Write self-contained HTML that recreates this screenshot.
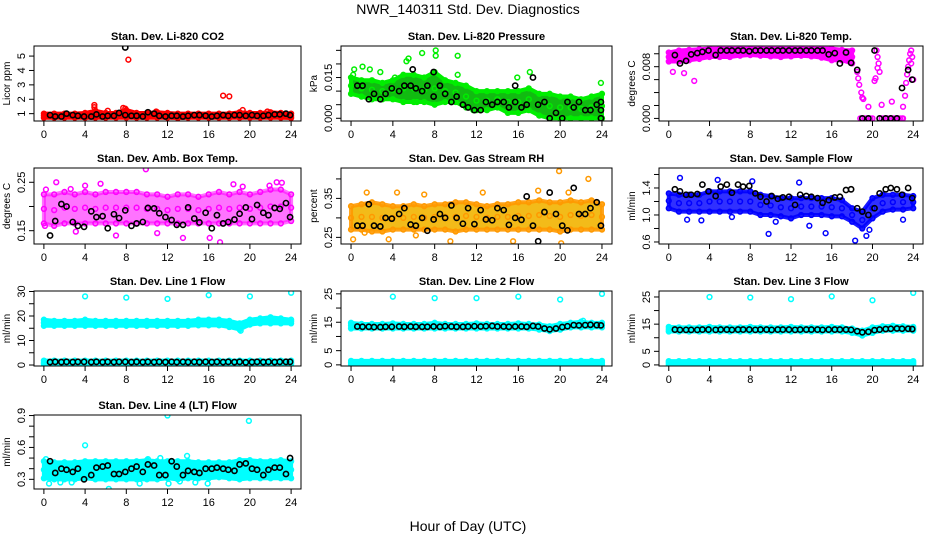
<!DOCTYPE html>
<html><head><meta charset="utf-8"><style>
html,body{margin:0;padding:0;background:#fff;}
svg{display:block;font-family:"Liberation Sans",sans-serif;}
</style></head><body>
<svg id="chart" width="936" height="540" viewBox="0 0 936 540">
<text x="468" y="14" text-anchor="middle" font-size="14">NWR_140311  Std. Dev. Diagnostics</text>
<text x="468" y="531" text-anchor="middle" font-size="14">Hour of Day (UTC)</text>
</svg>
<script>
const blackHours=[0.6,1.1,1.7,2.2,2.8,3.3,3.9,4.6,5.1,5.7,6.2,6.8,7.3,7.9,8.5,9.0,9.6,10.1,10.7,11.2,11.8,12.4,12.9,13.5,14.0,14.6,15.1,15.7,16.3,16.8,17.4,17.9,18.5,19.0,19.6,20.2,20.7,21.3,21.8,22.4,22.9,23.5,23.9];
const xTicks=[0,4,8,12,16,20,24];

// P1 CO2
const co2Lo=[0.72,0.72,0.72,0.72,0.72,0.72,0.72,0.72,0.72,0.72,0.72,0.72,0.72,0.7,0.72,0.72,0.72,0.72,0.72,0.72,0.72,0.72,0.72,0.72,0.7];
const co2Hi=[1.0,1.0,1.0,1.0,1.05,1.2,1.05,1.05,1.25,1.05,1.05,1.1,1.05,1.0,1.0,1.0,1.0,1.0,1.0,1.1,1.05,1.05,1.1,1.05,1.0];
const co2OutH=[4.9,4.9,6.2,7.7,7.9,8.2,17.4,18.0,19.3,10.9,21.7];
const co2OutV=[1.6,1.45,1.2,1.4,1.35,4.75,2.25,2.2,1.25,1.15,1.15];
const co2Black=[0.9,0.8,0.8,1.0,0.9,0.85,0.8,0.8,0.95,0.8,0.85,0.85,1.05,0.9,0.85,0.85,0.8,1.1,1.0,0.85,0.8,0.85,0.85,0.8,0.85,0.9,0.9,0.85,0.8,0.85,0.9,0.85,0.9,0.9,0.85,0.9,0.85,0.85,0.9,0.95,0.95,1.0,0.9];
const co2ExH=[7.9], co2ExV=[5.6];
// P2 pressure
const prLo=[0.009,0.008,0.007,0.007,0.007,0.006,0.006,0.006,0.005,0.006,0.006,0.004,0.003,0.003,0.004,0.002,0.002,0.003,0.001,0.0,0.0,0.0,0.0,0.0,0.0];
const prHi=[0.015,0.014,0.014,0.013,0.014,0.016,0.016,0.015,0.017,0.014,0.013,0.012,0.010,0.010,0.010,0.010,0.010,0.011,0.009,0.009,0.008,0.008,0.007,0.008,0.009];
const prOutH=[0.2,0.3,1.1,1.8,5.3,5.5,6.8,8.1,8.1,10.2,10.2,15.9,17.1,23.9,4.2,2.8,6.3,11.7];
const prOutV=[0.016,0.018,0.019,0.018,0.021,0.022,0.024,0.025,0.023,0.023,0.016,0.015,0.017,0.013,0.015,0.017,0.006,0.003];
const prBlack=[0.012,0.012,0.007,0.009,0.007,0.009,0.011,0.010,0.012,0.012,0.011,0.010,0.012,0.008,0.012,0.009,0.006,0.008,0.005,0.004,0.003,0.003,0.006,0.005,0.006,0.006,0.004,0.006,0.004,0.005,0.015,0.005,0.006,0.0,0.002,0.0,0.006,0.004,0.006,0.003,0.003,0.005,0.006];
const prExH=[5.9,7.9,15.7,23.9,23.9], prExV=[0.018,0.017,0.012,0.0,0.003];
// P3 Li-820 temp (null = gap in dense band)
const ltLo=[0.0088,0.0088,0.009,0.0092,0.0095,0.0095,0.0095,0.0097,0.0098,0.0097,0.0096,0.0095,0.0096,0.0097,0.0096,0.0094,0.009,0.009,0.0085,null,null,null,null,null,null];
const ltHi=[0.0102,0.0105,0.0106,0.0107,0.0108,0.0108,0.0108,0.0108,0.0108,0.0108,0.0108,0.0108,0.0108,0.0108,0.0108,0.0108,0.0108,0.0106,0.0105,null,null,null,null,null,null];
const ltOutH=[0.4,2.5,1.5,19.6,20.9,21.9,23.0,18.5,18.6,18.7,18.9,19.0,19.1,20.4,20.5,20.6,20.7,20.3,20.2,20.5,18.8,19.0,19.2,19.4,19.6,19.8,20.0,20.9,21.1,21.3,21.5,21.7,21.9,22.1,22.3,22.5,22.7,22.9,23.0,23.2,23.3,23.4,23.5,23.6,23.7,23.8,23.9,24.0,23.8];
const ltOutV=[0.0072,0.0058,0.007,0.0018,0.0021,0.0026,0.0018,0.0072,0.0062,0.0052,0.0040,0.0032,0.0030,0.0105,0.0095,0.0085,0.0072,0.0062,0.0058,0.0078,0,0,0,0,0,0,0,0,0,0,0,0,0,0,0,0,0,0,0,0.0035,0.0055,0.0068,0.0080,0.0090,0.0100,0.0105,0.0095,0.0060,0.0085];
const ltBlack=[0.0098,0.0085,0.0089,0.0099,0.0101,0.0103,0.0105,0.0098,0.0105,0.0105,0.0105,0.0105,0.0105,0.0104,0.0105,0.0105,0.0105,0.0105,0.0105,0.0105,0.0105,0.0105,0.0105,0.0105,0.0105,0.0105,0.0105,0.0099,0.0101,0.0085,0.0102,0.0086,0.0075,0,0,0.0105,0,0,0,0,0.0047,0.0075,0.006];
// P4 amb box temp
const abLo=[0.165,0.16,0.165,0.165,0.165,0.165,0.165,0.165,0.165,0.165,0.165,0.165,0.165,0.165,0.165,0.165,0.165,0.165,0.165,0.165,0.165,0.165,0.165,0.165,0.17];
const abHi=[0.225,0.225,0.23,0.225,0.23,0.225,0.23,0.23,0.23,0.23,0.225,0.225,0.22,0.225,0.225,0.22,0.225,0.23,0.225,0.23,0.225,0.23,0.235,0.235,0.225];
const abOutH=[9.9,0.2,1.2,5.5,18.4,23.1,17.1,16.1,4.0,2.6,0.1,19.3,21.9,22.6,13.5,7.0,11.0,3.1];
const abOutV=[0.277,0.235,0.25,0.247,0.246,0.249,0.126,0.135,0.243,0.236,0.16,0.241,0.243,0.25,0.135,0.14,0.145,0.148];
const abBlack=[0.14,0.17,0.205,0.20,0.168,0.16,0.158,0.19,0.178,0.18,0.155,0.184,0.176,0.192,0.16,0.165,0.168,0.197,0.196,0.186,0.178,0.172,0.162,0.162,0.198,0.175,0.167,0.187,0.155,0.182,0.165,0.168,0.173,0.185,0.198,0.174,0.203,0.187,0.182,0.197,0.195,0.207,0.178];
// P5 RH
const rhLo=[0.27,0.27,0.265,0.265,0.27,0.27,0.27,0.27,0.27,0.27,0.265,0.27,0.27,0.27,0.27,0.27,0.27,0.27,0.27,0.27,0.265,0.27,0.27,0.27,0.27];
const rhHi=[0.33,0.335,0.34,0.335,0.33,0.33,0.335,0.33,0.335,0.335,0.34,0.34,0.335,0.33,0.335,0.335,0.34,0.34,0.345,0.34,0.34,0.345,0.34,0.345,0.335];
const rhOutH=[0.2,19.9,22.7,1.5,4.4,15.5,20.1,1.3,3.6,7.0,12.6,20.8,9.5,17.9,6.2];
const rhOutV=[0.245,0.42,0.40,0.365,0.365,0.24,0.235,0.262,0.245,0.36,0.365,0.365,0.24,0.37,0.255];
const rhBlack=[0.28,0.28,0.335,0.28,0.278,0.30,0.298,0.31,0.325,0.283,0.28,0.30,0.267,0.296,0.31,0.30,0.332,0.30,0.285,0.325,0.284,0.32,0.296,0.294,0.325,0.32,0.282,0.30,0.295,0.355,0.28,0.24,0.315,0.365,0.31,0.28,0.268,0.377,0.31,0.31,0.325,0.34,0.28];
// P6 sample flow
const sfLo=[1.1,1.05,1.05,1.05,1.05,1.05,1.05,1.05,1.05,1.0,1.0,0.98,0.95,1.0,1.0,1.0,0.98,0.98,0.9,0.8,0.95,1.05,1.08,1.08,1.1];
const sfHi=[1.32,1.3,1.3,1.3,1.35,1.35,1.35,1.35,1.35,1.3,1.28,1.25,1.25,1.25,1.25,1.25,1.25,1.22,1.1,1.05,1.25,1.3,1.3,1.3,1.28];
const sfOutH=[7.3,1.1,9.8,15.4,18.3,19.4,13.8,23.0,6.2,4.8,12.8,19.7,1.8,3.2,8.2,10.5];
const sfOutV=[1.75,1.55,0.72,0.73,0.62,0.69,0.84,0.93,0.97,1.52,1.48,0.78,0.93,0.92,1.5,0.9];
const sfBlack=[1.38,1.35,1.3,1.3,1.31,1.45,1.35,1.28,1.42,1.45,1.33,1.45,1.42,1.43,1.32,1.27,1.20,1.28,1.24,1.26,1.27,1.15,1.30,1.28,1.27,1.25,1.18,1.22,1.26,1.27,1.37,1.38,1.1,1.05,1.0,1.1,1.32,1.38,1.40,1.38,1.30,1.40,1.25];
// P7 line 1
const l1Lo=[16,16,16,16,16,16,16,16,16,16,16,16,16,16,16,16.2,16.2,16.2,15.5,14.5,16.5,17,17,17,17];
const l1Hi=[18.5,18,18,18,18.5,18,18,18,18,18,18,18,18,18,18,18.5,18.5,18.5,18,17,18.5,19,19.5,19,18.5];
const l1Lo2=[0.4,0.4,0.4,0.4,0.4,0.4,0.4,0.4,0.4,0.4,0.4,0.4,0.4,0.4,0.4,0.4,0.4,0.4,0.4,0.4,0.4,0.4,0.4,0.4,0.4];
const l1Hi2=[1.8,1.8,1.8,1.8,1.8,1.8,1.8,1.8,1.8,1.8,1.8,1.8,1.8,1.8,1.8,1.8,1.8,1.8,1.8,1.8,1.8,1.8,1.8,1.8,1.8];
const l1OutH=[4,8,12,16,20,24,19.1], l1OutV=[28,27.5,27,28.5,28,29.5,14];
const l1Black=[1.2,1.3,1.2,1.3,1.2,1.3,1.3,1.2,1.3,1.2,1.3,1.2,1.3,1.3,1.2,1.3,1.2,1.3,1.2,1.3,1.2,1.3,1.2,1.3,1.2,1.3,1.2,1.3,1.2,1.3,1.2,1.3,1.2,1.3,1.1,1.2,1.3,1.2,1.3,1.2,1.3,1.3,1.3];
// P8 line 2
const l2Lo=[12.8,12.8,12.8,12.8,12.8,12.8,12.8,12.8,12.8,12.8,12.8,12.8,12.8,12.8,12.8,12.8,12.8,12.8,12.4,11.9,12.4,13.2,13.2,13.2,13.2];
const l2Hi=[14.8,14.4,14.4,14.4,14.6,14.4,14.4,14.4,14.8,14.4,14.4,14.4,14.6,14.4,14.4,14.4,14.6,14.4,14.2,13.6,14.4,14.8,15.2,14.8,14.8];
const l2Lo2=[0.2,0.2,0.2,0.2,0.2,0.2,0.2,0.2,0.2,0.2,0.2,0.2,0.2,0.2,0.2,0.2,0.2,0.2,0.2,0.2,0.2,0.2,0.2,0.2,0.2];
const l2Hi2=[1.4,1.4,1.4,1.4,1.4,1.4,1.4,1.4,1.4,1.4,1.4,1.4,1.4,1.4,1.4,1.4,1.4,1.4,1.4,1.4,1.4,1.4,1.4,1.4,1.4];
const l2OutH=[4,8,12,16,20,24,22.2,0], l2OutV=[24,23.5,23.5,24,23,25,15.5,14.7];
const l2Black=[13.5,13.4,13.4,13.3,13.3,13.4,13.4,13.5,13.4,13.5,13.4,13.4,13.4,13.5,13.4,13.6,13.5,13.4,13.4,13.5,13.6,13.5,13.6,13.7,13.5,13.5,13.4,13.5,13.5,13.4,13.7,13.5,12.8,12.5,12.8,13.3,13.6,14.0,13.9,14.0,14.1,14.0,13.9];
// P9 line 3
const l3Lo=[12.3,12.3,12.3,12.3,12.3,12.3,12.3,12.3,12.3,12.3,12.3,12.3,12.3,12.3,12.3,12.3,12.3,12.3,11.8,10.8,11.8,12.6,12.6,12.6,12.6];
const l3Hi=[14.0,13.8,13.8,13.8,14.0,13.8,13.8,13.8,14.0,13.8,13.8,13.8,14.0,13.8,13.8,13.8,14.0,13.8,13.4,12.6,13.8,14.2,14.4,14.2,14.0];
const l3Lo2=[0.2,0.2,0.2,0.2,0.2,0.2,0.2,0.2,0.2,0.2,0.2,0.2,0.2,0.2,0.2,0.2,0.2,0.2,0.2,0.2,0.2,0.2,0.2,0.2,0.2];
const l3Hi2=[1.4,1.4,1.4,1.4,1.4,1.4,1.4,1.4,1.4,1.4,1.4,1.4,1.4,1.4,1.4,1.4,1.4,1.4,1.4,1.4,1.4,1.4,1.4,1.4,1.4];
const l3OutH=[4,8,12,16,20,24], l3OutV=[25,24.8,24.2,25.2,23.8,26.5];
const l3Black=[13.0,12.9,12.9,12.9,12.9,13.0,13.0,12.9,13.0,13.0,12.9,13.0,13.0,13.0,12.9,13.0,13.0,12.9,13.0,13.0,13.0,12.9,13.0,13.0,13.0,13.0,12.9,13.0,13.0,13.0,13.0,12.9,12.4,12.0,12.2,12.8,13.0,13.2,13.3,13.4,13.3,13.3,13.2];
// P10 line 4
const l4Lo=[0.31,0.3,0.3,0.3,0.31,0.3,0.3,0.3,0.3,0.3,0.3,0.3,0.31,0.3,0.31,0.31,0.31,0.32,0.31,0.3,0.31,0.31,0.31,0.31,0.31];
const l4Hi=[0.47,0.46,0.46,0.46,0.47,0.47,0.47,0.47,0.47,0.47,0.48,0.47,0.47,0.47,0.47,0.46,0.46,0.46,0.46,0.48,0.48,0.47,0.47,0.48,0.47];
const l4OutH=[4,12,19.9,6.3,0.5,1.6,2.7,9.3,12.1,13.2,14.7,15.9,11.3,0.2,13.9,10.1];
const l4OutV=[0.62,0.9,0.85,0.21,0.26,0.27,0.27,0.26,0.26,0.28,0.27,0.26,0.50,0.49,0.52,0.49];
const l4Black=[0.47,0.36,0.40,0.39,0.37,0.40,0.30,0.34,0.41,0.42,0.43,0.35,0.35,0.37,0.40,0.42,0.37,0.44,0.43,0.34,0.34,0.47,0.42,0.34,0.38,0.37,0.36,0.40,0.40,0.41,0.40,0.39,0.38,0.44,0.45,0.40,0.39,0.34,0.39,0.41,0.41,0.35,0.50];

const NS="http://www.w3.org/2000/svg";
const svg=document.getElementById('chart');
function mk(tag,attrs,parent){const e=document.createElementNS(NS,tag);for(const k in attrs)e.setAttribute(k,attrs[k]);(parent||svg).appendChild(e);return e;}

const cols=[[34,301],[341,612],[659,923]];
const rows=[[46,121],[168,244],[291,366],[415,489]];
const panels=[
 {name:'co2',title:'Stan. Dev. Li-820 CO2',ylab:'Licor ppm',c:0,r:0,ymin:0.49,ymax:5.7,ticks:[1,2,3,4,5],labels:['1','2','3','4','5'],color:'#ff0000',fill:'#ff0000',fo:1,bands:[[co2Lo,co2Hi]],oh:co2OutH,ov:co2OutV,bv:co2Black,eh:co2ExH,ev:co2ExV},
 {name:'pressure',title:'Stan. Dev. Li-820 Pressure',ylab:'kPa',c:1,r:0,ymin:-0.001,ymax:0.0266,ticks:[0,0.005,0.01,0.015,0.02,0.025],labels:['0.000','','','0.015','',''],color:'#00ee00',fill:'#11bb11',fo:1,bands:[[prLo,prHi]],oh:prOutH,ov:prOutV,bv:prBlack,eh:prExH,ev:prExV},
 {name:'li820-temp',title:'Stan. Dev. Li-820 Temp.',ylab:'degrees C',c:2,r:0,ymin:-0.0004,ymax:0.0112,ticks:[0,0.002,0.004,0.006,0.008,0.01],labels:['0.000','','','','0.008',''],color:'#ff00ff',fill:'#ff00ff',fo:1,bands:[[ltLo,ltHi]],oh:ltOutH,ov:ltOutV,bv:ltBlack,eh:[],ev:[]},
 {name:'amb-box-temp',title:'Stan. Dev. Amb. Box Temp.',ylab:'degrees C',c:0,r:1,ymin:0.1225,ymax:0.2795,ticks:[0.15,0.2,0.25],labels:['0.15','','0.25'],color:'#ff00ff',fill:'#ff00ff',fo:0.55,bands:[[abLo,abHi]],oh:abOutH,ov:abOutV,bv:abBlack,eh:[],ev:[]},
 {name:'gas-stream-rh',title:'Stan. Dev. Gas Stream RH',ylab:'percent',c:1,r:1,ymin:0.233,ymax:0.428,ticks:[0.25,0.3,0.35,0.4],labels:['0.25','','0.35',''],color:'#ff9900',fill:'#f2b400',fo:0.9,bands:[[rhLo,rhHi]],oh:rhOutH,ov:rhOutV,bv:rhBlack,eh:[],ev:[]},
 {name:'sample-flow',title:'Stan. Dev. Sample Flow',ylab:'ml/min',c:2,r:1,ymin:0.57,ymax:1.696,ticks:[0.6,0.8,1.0,1.2,1.4,1.6],labels:['0.6','','1.0','','1.4',''],color:'#0000ff',fill:'#1a1aff',fo:0.9,bands:[[sfLo,sfHi]],oh:sfOutH,ov:sfOutV,bv:sfBlack,eh:[],ev:[]},
 {name:'line1-flow',title:'Stan. Dev. Line 1 Flow',ylab:'ml/min',c:0,r:2,ymin:-0.4,ymax:30.2,ticks:[0,5,10,15,20,25,30],labels:['0','','10','','20','','30'],color:'#00ffff',fill:'#00ffff',fo:1,bands:[[l1Lo,l1Hi],[l1Lo2,l1Hi2]],oh:l1OutH,ov:l1OutV,bv:l1Black,eh:[],ev:[]},
 {name:'line2-flow',title:'Stan. Dev. Line 2 Flow',ylab:'ml/min',c:1,r:2,ymin:-0.4,ymax:26,ticks:[0,5,10,15,20,25],labels:['0','5','','15','','25'],color:'#00ffff',fill:'#00ffff',fo:1,bands:[[l2Lo,l2Hi],[l2Lo2,l2Hi2]],oh:l2OutH,ov:l2OutV,bv:l2Black,eh:[],ev:[]},
 {name:'line3-flow',title:'Stan. Dev. Line 3 Flow',ylab:'ml/min',c:2,r:2,ymin:-0.4,ymax:27.2,ticks:[0,5,10,15,20,25],labels:['0','5','','15','','25'],color:'#00ffff',fill:'#00ffff',fo:1,bands:[[l3Lo,l3Hi],[l3Lo2,l3Hi2]],oh:l3OutH,ov:l3OutV,bv:l3Black,eh:[],ev:[]},
 {name:'line4-flow',title:'Stan. Dev. Line 4 (LT) Flow',ylab:'ml/min',c:0,r:3,ymin:0.209,ymax:0.905,ticks:[0.3,0.4,0.5,0.6,0.7,0.8,0.9],labels:['0.3','','','0.6','','','0.9'],color:'#00ffff',fill:'#00ffff',fo:1,bands:[[l4Lo,l4Hi]],oh:l4OutH,ov:l4OutV,bv:l4Black,eh:[],ev:[]}
];

panels.forEach(p=>{
 const [l,r]=cols[p.c], [t,b]=rows[p.r];
 const g=mk('g',{});
 
 
 const xs=h=>l+(r-l)*(0.04+h/24*1.0)/1.08;
 const ys=v=>b-(v-p.ymin)/(p.ymax-p.ymin)*(b-t);
 const cp='cp-'+p.name;
 const defs=mk('defs',{},g);const clip=mk('clipPath',{id:cp},defs);mk('rect',{x:l,y:t,width:r-l,height:b-t},clip);
 const plot=mk('g',{'clip-path':'url(#'+cp+')'},g);
 
 
 p.bands.forEach((bd,bi)=>{
  const lo=bd[0],hi=bd[1],n=lo.length;
  // split into segments of non-null values
  const segs=[];let cur=[];
  for(let i=0;i<n;i++){if(lo[i]===null){if(cur.length)segs.push(cur);cur=[];}else cur.push(i);}
  if(cur.length)segs.push(cur);
  segs.forEach(seg=>{
   const pts=[];
   seg.forEach(i=>pts.push(xs(i*24/(n-1))+','+ys(hi[i])));
   seg.slice().reverse().forEach(i=>pts.push(xs(i*24/(n-1))+','+ys(lo[i])));
   const poly=mk('polygon',{points:pts.join(' '),fill:p.fill,'fill-opacity':p.fo,stroke:p.color,'stroke-width':4,'stroke-linejoin':'round','stroke-opacity':p.fo},plot);
   
   
   seg.forEach(i=>{
    [lo[i],hi[i],(lo[i]+hi[i])/2].forEach(v=>{
     const c=mk('circle',{cx:xs(i*24/(n-1)),cy:ys(v),r:2.4,fill:'none',stroke:p.color,'stroke-width':1.5},plot);
     
     
    });
   });
  });
 });
 p.oh.forEach((h,i)=>{
  const c=mk('circle',{cx:xs(h),cy:ys(p.ov[i]),r:2.4,fill:'none',stroke:p.color,'stroke-width':1.5},plot);
  
  
 });
 blackHours.forEach((h,i)=>{
  const c=mk('circle',{cx:xs(h),cy:ys(p.bv[i]),r:2.6,fill:'none',stroke:'#000','stroke-width':1.6},plot);
  
  
 });
 p.eh.forEach((h,i)=>{
  const c=mk('circle',{cx:xs(h),cy:ys(p.ev[i]),r:2.6,fill:'none',stroke:'#000','stroke-width':1.6},plot);
  
  
 });
 const box=mk('rect',{x:l,y:t,width:r-l,height:b-t,fill:'none',stroke:'#000','stroke-width':1},g);
 
 
 const ttl=mk('text',{x:(l+r)/2,y:t-6,'text-anchor':'middle','font-size':11,'font-weight':'bold'},g);
 ttl.textContent=p.title;
 
 
 const xa=mk('g',{},g);
 
 
 mk('line',{x1:xs(0),x2:xs(24),y1:b,y2:b,stroke:'#000'},xa);
 xTicks.forEach(tk=>{
  mk('line',{x1:xs(tk),x2:xs(tk),y1:b,y2:b+5,stroke:'#000'},xa);
  const tx=mk('text',{x:xs(tk),y:b+17,'text-anchor':'middle','font-size':11},xa);
  tx.textContent=tk;
  
  
 });
 const ya=mk('g',{},g);
 
 
 const t0=p.ticks[0],t1=p.ticks[p.ticks.length-1];
 mk('line',{x1:l,x2:l,y1:ys(t0),y2:ys(t1),stroke:'#000'},ya);
 p.ticks.forEach((tk,i)=>{
  mk('line',{x1:l-5,x2:l,y1:ys(tk),y2:ys(tk),stroke:'#000'},ya);
  if(p.labels[i]){
   const tx=mk('text',{x:l-9,y:ys(tk),'text-anchor':'middle','font-size':11,transform:'rotate(-90 '+(l-9)+' '+ys(tk)+')'},ya);
   tx.textContent=p.labels[i];
   
   
  }
 });
 const yl=mk('text',{x:l-24,y:(t+b)/2,'text-anchor':'middle','font-size':10,transform:'rotate(-90 '+(l-24)+' '+((t+b)/2)+')'},g);
 yl.textContent=p.ylab;
 
 
});
</script>
</body></html>
